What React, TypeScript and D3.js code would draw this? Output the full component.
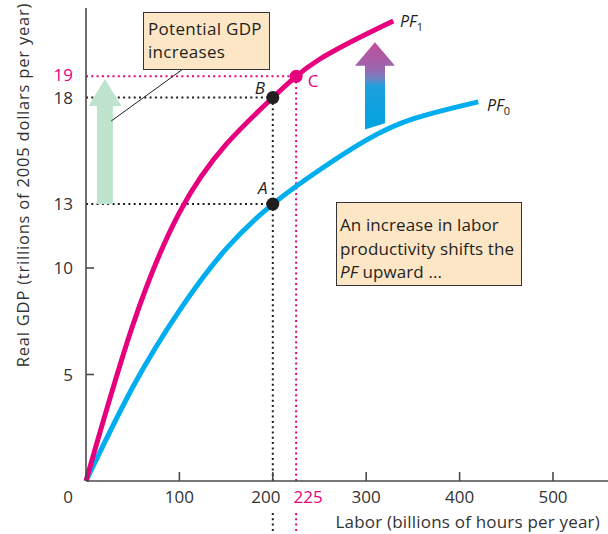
import React from 'react';
import * as d3 from 'd3';

// ---- data ----
const xTickValues = [100, 200, 300, 400, 500];
const yTickValues = [5, 10];
const pf0Labor = [0, 50, 100, 150, 200, 250, 300, 350, 420];
const pf0Gdp = [0, 4.4, 8.0, 10.9, 13.0, 14.6, 16.0, 17.0, 17.8];
const pf1Labor = [0, 50, 100, 150, 200, 250, 329];
const pf1Gdp = [0, 7.3, 12.6, 15.8, 18.0, 19.8, 21.6];
const pointNames = ['A', 'B', 'C'];
const pointLabor = [200, 200, 225];
const pointGdp = [13, 18, 19];

const W = 608;
const H = 534;
const FONT = '"Open Sans", Lato, sans-serif';
const MAGENTA = '#E6007E';
const CYAN = '#00AEEF';
const INK = '#231F20';
const AXIS = '#4a4a4a';
const BOXFILL = '#FDE6C6';

const x = d3.scaleLinear().domain([0, 560]).range([86, 86 + 5.6 * 93.4]);
const y = d3.scaleLinear().domain([0, 22.2]).range([481, 481 - 22.2 * 21.3]);

export default function App() {
  const line = d3
    .line<[number, number]>()
    .x((d) => x(d[0]))
    .y((d) => y(d[1]))
    .curve(d3.curveNatural);
  const pf0 = line(pf0Labor.map((l, i) => [l, pf0Gdp[i]] as [number, number])) || '';
  const pf1 = line(pf1Labor.map((l, i) => [l, pf1Gdp[i]] as [number, number])) || '';

  const x0 = x(0);
  const y0 = y(0);

  // green arrow (in data units)
  const gx = x(20.3);
  const gBottom = y(13);
  const gTip = y(18.87);
  const gHead = y(17.6);
  const greenArrow = `M${gx - 8},${gBottom} L${gx - 8},${gHead} L${gx - 16.5},${gHead} L${gx},${gTip} L${gx + 16.5},${gHead} L${gx + 8},${gHead} L${gx + 8},${gBottom} Z`;

  // gradient arrow
  const bx = x(309.4);
  const bTip = y(20.6);
  const bHead = y(19.5);
  const bBotL = y(16.5);
  const bBotR = y(16.8);
  const blueArrow = `M${bx - 10},${bBotL} L${bx - 10},${bHead} L${bx - 20},${bHead} L${bx},${bTip} L${bx + 20},${bHead} L${bx + 10},${bHead} L${bx + 10},${bBotR} Z`;

  const dot = { stroke: INK, strokeWidth: 2, strokeDasharray: '2 3.3' };
  const pdot = { stroke: MAGENTA, strokeWidth: 2, strokeDasharray: '2 3.3' };

  return (
    <svg
      width={W}
      height={H}
      style={{ position: 'absolute', left: 0, top: 0, background: '#fff' }}
      fontFamily={FONT}
    >
      <defs>
        <linearGradient id="bg" x1="0" y1={bTip} x2="0" y2={bBotL} gradientUnits="userSpaceOnUse">
          <stop offset="0" stopColor="#C24D98" />
          <stop offset="0.3" stopColor="#9A66AE" />
          <stop offset="0.42" stopColor="#6F84C2" />
          <stop offset="0.5" stopColor="#1EA0DC" />
          <stop offset="1" stopColor="#00A3E0" />
        </linearGradient>
      </defs>

      {/* Y axis title */}
      <text
        transform={`translate(29, ${185}) rotate(-90)`}
        textAnchor="middle"
        fontSize={16.5}
        letterSpacing={0.8}
        fill="#333"
      >
        Real GDP (trillions of 2005 dollars per year)
      </text>

      {/* guide lines */}
      <line x1={x0} x2={x(pointLabor[0])} y1={y(pointGdp[0])} y2={y(pointGdp[0])} {...dot} />
      <line x1={x0} x2={x(pointLabor[1])} y1={y(pointGdp[1])} y2={y(pointGdp[1])} {...dot} />
      <line x1={x(pointLabor[1])} x2={x(pointLabor[1])} y1={y(pointGdp[1])} y2={y0} {...dot} />
      <line x1={x(pointLabor[1])} x2={x(pointLabor[1])} y1={513} y2={534} {...dot} />
      <line x1={x0} x2={x(pointLabor[2])} y1={y(pointGdp[2])} y2={y(pointGdp[2])} {...pdot} />
      <line x1={x(pointLabor[2])} x2={x(pointLabor[2])} y1={y(pointGdp[2])} y2={y0} {...pdot} />
      <line x1={x(pointLabor[2])} x2={x(pointLabor[2])} y1={513} y2={534} {...pdot} />

      {/* arrows */}
      <path d={greenArrow} fill="#BFE4CE" />
      <path d={blueArrow} fill="url(#bg)" />

      {/* curves */}
      <path d={pf0} fill="none" stroke={CYAN} strokeWidth={5} />
      <path d={pf1} fill="none" stroke={MAGENTA} strokeWidth={5} />

      {/* axes */}
      <line x1={x0} x2={x0} y1={8} y2={y0} stroke={AXIS} strokeWidth={1.6} />
      <line x1={x0} x2={W} y1={y0} y2={y0} stroke={AXIS} strokeWidth={1.6} />
      {xTickValues.map((v) => (
        <line key={'xt' + v} x1={x(v)} x2={x(v)} y1={y0} y2={y0 - 9} stroke={AXIS} strokeWidth={1.6} />
      ))}
      {yTickValues.map((v) => (
        <line key={'yt' + v} x1={x0} x2={x0 + 8} y1={y(v)} y2={y(v)} stroke={AXIS} strokeWidth={1.6} />
      ))}

      {/* x tick labels */}
      <text x={x0 - 18} y={503} textAnchor="middle" fontSize={17} fill="#333">0</text>
      {xTickValues.map((v) => (
        <text
          key={'xl' + v}
          x={x(v) + (v === 200 ? -7 : 0)}
          y={503}
          textAnchor="middle"
          fontSize={17}
          fill="#333"
        >
          {v}
        </text>
      ))}
      <text x={x(pointLabor[2]) + 12} y={503} textAnchor="middle" fontSize={17} fill={MAGENTA}>
        225
      </text>

      {/* y tick labels */}
      {[...yTickValues, pointGdp[0], pointGdp[1]].map((v) => (
        <text key={'yl' + v} x={73} y={y(v) + 6} textAnchor="end" fontSize={17} fill="#333">
          {v}
        </text>
      ))}
      <text x={73} y={y(pointGdp[2]) + 5} textAnchor="end" fontSize={17} fill={MAGENTA}>
        {pointGdp[2]}
      </text>

      {/* x axis title */}
      <text x={600} y={528} textAnchor="end" fontSize={17} letterSpacing={0.2} fill="#333">
        Labor (billions of hours per year)
      </text>

      {/* points */}
      {pointNames.map((n, i) => (
        <circle
          key={'p' + n}
          cx={x(pointLabor[i])}
          cy={y(pointGdp[i])}
          r={6.5}
          fill={n === 'C' ? MAGENTA : INK}
        />
      ))}
      <text x={x(pointLabor[0]) - 10} y={y(pointGdp[0]) - 10} textAnchor="middle" fontSize={17} fontStyle="italic" fill={INK}>A</text>
      <text x={x(pointLabor[1]) - 13} y={y(pointGdp[1]) - 4} textAnchor="middle" fontSize={17} fontStyle="italic" fill={INK}>B</text>
      <text x={x(pointLabor[2]) + 17} y={y(pointGdp[2]) + 11} textAnchor="middle" fontSize={17} fill={MAGENTA}>C</text>

      {/* curve labels */}
      <text x={400} y={27} fontSize={16} fontStyle="italic" fill={INK}>
        PF<tspan fontSize={11} fontStyle="normal" dy={4}>1</tspan>
      </text>
      <text x={487} y={111} fontSize={16} fontStyle="italic" fill={INK}>
        PF<tspan fontSize={11} fontStyle="normal" dy={4}>0</tspan>
      </text>

      {/* callout 1 */}
      <line x1={183} y1={69} x2={x(27)} y2={y(16.9)} stroke={INK} strokeWidth={1} />
      <rect x={143.5} y={12.5} width={126} height={57} fill={BOXFILL} stroke="#333" strokeWidth={1} />
      <text x={148} y={35} fontSize={17} letterSpacing={0.3} fill={INK}>Potential GDP</text>
      <text x={148} y={58} fontSize={17} letterSpacing={0.3} fill={INK}>increases</text>

      {/* callout 2 */}
      <rect x={336.5} y={202.5} width={185} height={83} fill={BOXFILL} stroke="#333" strokeWidth={1} />
      <text x={340} y={231} fontSize={17} letterSpacing={0.1} fill={INK}>An increase in labor</text>
      <text x={340} y={255} fontSize={17} letterSpacing={0.1} fill={INK}>productivity shifts the</text>
      <text x={340} y={278} fontSize={17} letterSpacing={0.1} fill={INK}>
        <tspan fontStyle="italic">PF</tspan> upward ...
      </text>
    </svg>
  );
}
